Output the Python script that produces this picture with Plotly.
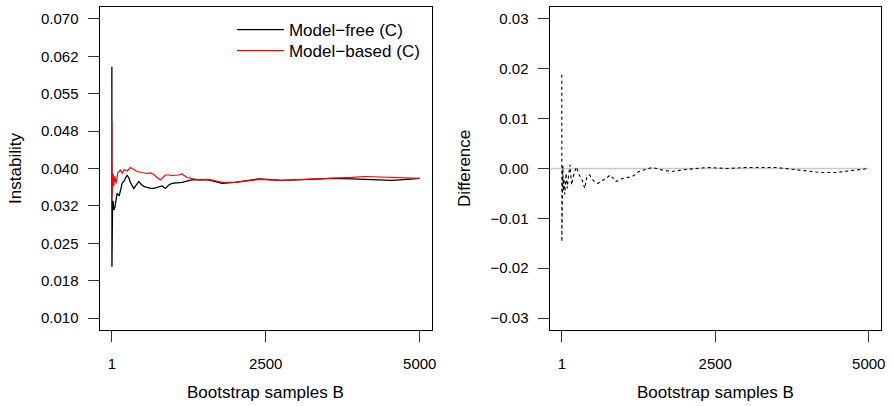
import plotly.graph_objects as go

# ---------------- data ----------------
B_FREE = [1, 2, 3, 5, 8, 12, 20, 32, 50, 86, 120, 141, 167, 200, 248, 280, 303, 357, 411, 438,
          480, 519, 573, 630, 681, 735, 816, 871, 925, 978, 1140, 1300, 1570, 1790, 2000, 2380,
          2760, 3200, 3570, 3900, 4110, 4550, 4800, 5000]
INST_FREE = [0.0604, 0.0203, 0.0360, 0.0330, 0.0350, 0.0320, 0.0335, 0.0317, 0.0322, 0.0350,
             0.0345, 0.0360, 0.0370, 0.0375, 0.0387, 0.0380, 0.0372, 0.0360, 0.0368, 0.0374,
             0.0368, 0.0364, 0.0362, 0.0360, 0.0360, 0.0362, 0.0365, 0.0360, 0.0367, 0.0370,
             0.0372, 0.0377, 0.0377, 0.0370, 0.0372, 0.0379, 0.0376, 0.0378, 0.0380, 0.0379,
             0.0378, 0.0376, 0.0378, 0.0380]

B_BASED = [1, 2, 3, 5, 8, 12, 20, 32, 50, 70, 100, 141, 170, 200, 250, 303, 357, 411, 480, 573,
           630, 681, 735, 790, 816, 871, 925, 978, 1085, 1140, 1220, 1300, 1410, 1570, 1790, 2000,
           2380, 2760, 3200, 3570, 3900, 4110, 4550, 4800, 5000]
INST_BASED = [0.0494, 0.0343, 0.0370, 0.0350, 0.0385, 0.0364, 0.0390, 0.0365, 0.0385, 0.0370,
              0.0392, 0.0397, 0.0390, 0.0398, 0.0395, 0.0402, 0.0398, 0.0394, 0.0392, 0.0390,
              0.0391, 0.0388, 0.0382, 0.0377, 0.0380, 0.0387, 0.0387, 0.0386, 0.0387, 0.0389,
              0.0382, 0.0380, 0.0377, 0.0378, 0.0372, 0.0372, 0.0378, 0.0376, 0.0378, 0.0380,
              0.0382, 0.0384, 0.0382, 0.0381, 0.0380]

B_DIFF = [1, 2, 3, 5, 8, 12, 18, 25, 35, 50, 70, 90, 110, 134, 161, 200, 241, 280, 322, 375,
          410, 455, 520, 590, 660, 724, 788, 885, 990, 1150, 1255, 1475, 1635, 1795, 2010, 2170,
          2380, 2700, 3000, 3500, 3940, 4210, 4470, 4745, 4930, 5000]
DIFF = [0.0188, -0.0147, 0.0015, -0.0050, -0.0010, -0.0040, 0.0005, -0.0045, -0.0020, -0.0052,
        -0.0010, -0.0040, -0.0015, 0.0007, -0.0033, -0.0010, 0.0003, -0.0012, -0.0020, -0.0040,
        -0.0016, -0.0013, -0.0025, -0.0030, -0.0024, -0.0020, -0.0013, -0.0026, -0.0020, -0.0016,
        -0.0006, 0.0002, -0.0003, -0.0006, -0.0002, 0.0000, 0.0002, 0.0000, 0.0002, 0.0002,
        -0.0004, -0.0008, -0.0008, -0.0004, -0.0001, 0.0000]

X_TICKS = [1, 2500, 5000]
X_TICK_TEXT = ["1", "2500", "5000"]
Y1_TICKS = [0.010, 0.0175, 0.025, 0.0325, 0.040, 0.0475, 0.055, 0.0625, 0.070]
Y1_TICK_TEXT = ["0.010", "0.018", "0.025", "0.032", "0.040", "0.048", "0.055", "0.062", "0.070"]
Y2_TICKS = [-0.03, -0.02, -0.01, 0.00, 0.01, 0.02, 0.03]
Y2_TICK_TEXT = ["\u22120.03", "\u22120.02", "\u22120.01", "0.00", "0.01", "0.02", "0.03"]
ZERO_LINE = 0.0

LABEL_FREE = "Model\u2212free (C)"
LABEL_BASED = "Model\u2212based (C)"
X_TITLE = "Bootstrap samples B"
Y1_TITLE = "Instability"
Y2_TITLE = "Difference"

# ---------------- layout helpers ----------------
W, H = 893, 406
FONT = "Liberation Sans, Arial, Helvetica, sans-serif"


def rng(lo, hi):
    d = (hi - lo) * 0.04
    return [lo - d, hi + d]


xr = rng(1, 5000)
y1r = rng(0.010, 0.070)
y2r = rng(-0.03, 0.03)

fig = go.Figure()
fig.add_trace(go.Scatter(x=B_FREE, y=INST_FREE, mode="lines", name=LABEL_FREE,
                         line=dict(color="black", width=1.3), xaxis="x", yaxis="y",
                         legend="legend"))
fig.add_trace(go.Scatter(x=B_BASED, y=INST_BASED, mode="lines", name=LABEL_BASED,
                         line=dict(color="#ff0000", width=1.2), xaxis="x", yaxis="y",
                         legend="legend2"))
fig.add_trace(go.Scatter(x=[xr[0], 5000], y=[ZERO_LINE, ZERO_LINE], mode="lines",
                         line=dict(color="#c8c8c8", width=1.6), showlegend=False,
                         hoverinfo="skip", xaxis="x2", yaxis="y2"))
fig.add_trace(go.Scatter(x=B_DIFF, y=DIFF, mode="lines", showlegend=False,
                         line=dict(color="black", width=1.1, dash="3px,3px"),
                         xaxis="x2", yaxis="y2"))

tick_font = dict(family=FONT, size=15, color="black")
common_x = dict(range=xr, tickmode="array", tickvals=X_TICKS, ticktext=X_TICK_TEXT,
                ticks="outside", ticklen=11, tickwidth=1, tickcolor="#333",
                showline=True, linecolor="black", linewidth=1, mirror=True,
                showgrid=False, zeroline=False, tickfont=tick_font, ticklabelstandoff=9)
common_y = dict(ticks="outside", ticklen=11, tickwidth=1, tickcolor="#333",
                showline=True, linecolor="black", linewidth=1, mirror=True,
                showgrid=False, zeroline=False, tickfont=tick_font, tickmode="array",
                ticklabelstandoff=6)

legend_common = dict(xanchor="left", yanchor="middle", bgcolor="rgba(0,0,0,0)",
                     font=dict(family=FONT, size=17, color="black"), itemwidth=47,
                     borderwidth=0)

y_dom = [76 / H, 399 / H]
fig.update_layout(
    width=W, height=H,
    margin=dict(l=0, r=0, t=0, b=0),
    paper_bgcolor="white", plot_bgcolor="white",
    font=dict(family=FONT, size=17, color="black"),
    xaxis=dict(domain=[100 / W, 434 / W], anchor="y", **common_x),
    yaxis=dict(domain=y_dom, anchor="x", range=y1r, tickvals=Y1_TICKS,
               ticktext=Y1_TICK_TEXT, **common_y),
    xaxis2=dict(domain=[552 / W, 885 / W], anchor="y2", **common_x),
    yaxis2=dict(domain=y_dom, anchor="x2", range=y2r, tickvals=Y2_TICKS,
                ticktext=Y2_TICK_TEXT, **common_y),
    legend=dict(x=233 / W, y=1 - 30 / H, **legend_common),
    legend2=dict(x=233 / W, y=1 - 51 / H, **legend_common),
    showlegend=True,
)

annos = [
    dict(text=X_TITLE, x=(100 + 434) / 2 / W, y=1 - 392 / H),
    dict(text=X_TITLE, x=(552 + 885) / 2 / W, y=1 - 392 / H),
    dict(text=Y1_TITLE, x=16 / W, y=1 - 168 / H, textangle=-90),
    dict(text=Y2_TITLE, x=467 / W, y=1 - 168 / H, textangle=-90),
]
for a in annos:
    fig.add_annotation(xref="paper", yref="paper", xanchor="center", yanchor="middle",
                       showarrow=False, font=dict(family=FONT, size=17, color="black"), **a)

fig.write_html("out.html", config={"displayModeBar": False},
               post_script="document.body.style.margin='0px';document.body.style.padding='0px';")
